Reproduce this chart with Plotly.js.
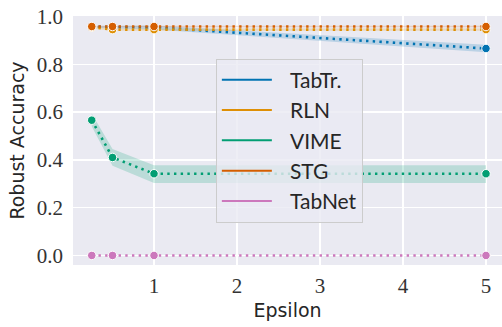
<!DOCTYPE html>
<html>
<head>
<meta charset="utf-8">
<script src="https://cdn.plot.ly/plotly-3.0.1.min.js"></script>
<style>html,body{margin:0;padding:0;background:#fff;}#chart{width:502px;height:327px;}</style>
</head>
<body>
<div id="chart"></div>
<script>
const epsilon = [0.25, 0.5, 1, 5];
const seriesNames = ["TabTr.", "RLN", "VIME", "STG", "TabNet"];
const colors = ["#0173b2", "#de8f05", "#029e73", "#d55e00", "#cc78bc"];

const tabtrMean = [0.957, 0.955, 0.954, 0.866];
const tabtrLow  = [0.953, 0.950, 0.946, 0.850];
const tabtrHigh = [0.961, 0.960, 0.962, 0.882];

const rlnMean = [0.955, 0.945, 0.945, 0.945];
const rlnLow  = [0.950, 0.940, 0.940, 0.940];
const rlnHigh = [0.960, 0.950, 0.950, 0.950];

const vimeMean = [0.566, 0.410, 0.342, 0.342];
const vimeLow  = [0.540, 0.375, 0.303, 0.303];
const vimeHigh = [0.594, 0.445, 0.377, 0.377];

const stgMean = [0.958, 0.958, 0.958, 0.958];
const stgLow  = [0.955, 0.955, 0.955, 0.955];
const stgHigh = [0.961, 0.961, 0.961, 0.961];

const tabnetMean = [0.0, 0.0, 0.0, 0.0];
const tabnetLow  = [0.0, 0.0, 0.0, 0.0];
const tabnetHigh = [0.0, 0.0, 0.0, 0.0];

const means = [tabtrMean, rlnMean, vimeMean, stgMean, tabnetMean];
const lows = [tabtrLow, rlnLow, vimeLow, stgLow, tabnetLow];
const highs = [tabtrHigh, rlnHigh, vimeHigh, stgHigh, tabnetHigh];

function hexA(h, a) {
  const r = parseInt(h.slice(1,3),16), g = parseInt(h.slice(3,5),16), b = parseInt(h.slice(5,7),16);
  return `rgba(${r},${g},${b},${a})`;
}

const traces = [];
for (let i = 0; i < seriesNames.length; i++) {
  traces.push({x: epsilon, y: lows[i], mode: 'lines', line: {width: 0, color: colors[i]}, showlegend: false, hoverinfo: 'skip'});
  traces.push({x: epsilon, y: highs[i], mode: 'lines', line: {width: 0, color: colors[i]}, fill: 'tonexty', fillcolor: hexA(colors[i], 0.2), showlegend: false, hoverinfo: 'skip'});
  traces.push({x: epsilon, y: means[i], mode: 'lines+markers', showlegend: false,
    line: {color: colors[i], width: 2.6, dash: '2.4px,4.3px'},
    marker: {size: 8.5, color: colors[i], line: {color: '#ffffff', width: 1}}});
}
for (let i = 0; i < seriesNames.length; i++) {
  traces.push({x: [null], y: [null], mode: 'lines', name: '\u2002\u2009' + seriesNames[i], legendgroup: 'g' + i,
    line: {color: colors[i], width: 2}, showlegend: true});
}

const serif = "Liberation Serif";
const sans = "DejaVu Sans";

const layout = {
  width: 502, height: 327,
  margin: {l: 73, r: 0, t: 16, b: 62},
  paper_bgcolor: '#ffffff', plot_bgcolor: '#eaeaf2',
  font: {family: sans, color: '#262626'},
  xaxis: {
    range: [0.024, 5.193], tickvals: [1, 2, 3, 4, 5], ticktext: ['1', '2', '3', '4', '5'],
    showgrid: true, gridcolor: '#ffffff', gridwidth: 1.3, zeroline: false, showline: false, ticks: '',
    ticklabelstandoff: 6,
    tickfont: {family: serif, size: 21, color: '#333333'},
    title: {text: 'Epsilon', font: {family: sans, size: 19, color: '#262626'}, standoff: 6}
  },
  yaxis: {
    range: [-0.04, 1.002], tickvals: [0, 0.2, 0.4, 0.6, 0.8, 1.0], ticktext: ['0.0', '0.2', '0.4', '0.6', '0.8', '1.0'],
    showgrid: true, gridcolor: '#ffffff', gridwidth: 1.3, zeroline: false, showline: false, ticks: '',
    ticklabelstandoff: 9,
    tickfont: {family: serif, size: 21, color: '#333333'},
    title: {text: 'Robust Accuracy', font: {family: sans, size: 19, color: '#262626'}, standoff: 7}
  },
  legend: {
    x: 0.333, y: 0.829, xanchor: 'left', yanchor: 'top',
    bgcolor: 'rgba(234,234,242,0.8)', bordercolor: '#cccccc', borderwidth: 1,
    font: {family: 'Lato', size: 21, color: '#262626'},
    traceorder: 'grouped', tracegroupgap: 0, itemwidth: 50
  },
  showlegend: true
};

Plotly.newPlot('chart', traces, layout, {displayModeBar: false, staticPlot: true});
</script>
</body>
</html>
